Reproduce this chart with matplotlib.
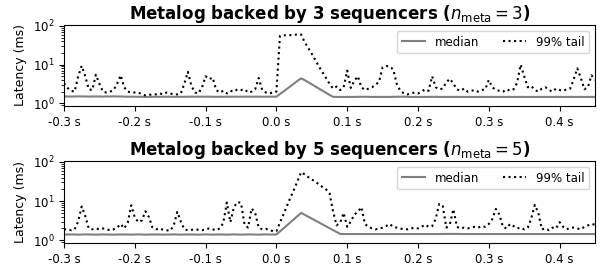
import matplotlib
matplotlib.use("Agg")
import matplotlib.pyplot as plt
import numpy as np

# sample times (s), one every 5 ms
T_START = -0.300
T_STEP = 0.005
N_SAMPLES = 151

# n_meta = 3
TAIL3 = [
    3.3, 2.5, 2.1, 2.0, 4.9, 9.3, 5.0, 2.3, 2.2, 5.5,
    3.2, 2.0, 1.9, 2.0, 2.2, 3.2, 5.3, 2.6, 2.0, 1.9,
    1.9, 1.9, 1.7, 1.6, 1.65, 1.7, 1.7, 1.8, 1.7, 1.9,
    1.8, 1.7, 1.7, 1.8, 3.2, 6.5, 2.8, 1.9, 1.8, 2.6,
    5.0, 4.2, 4.6, 2.2, 1.9, 2.1, 1.8, 2.1, 2.0, 2.3,
    2.2, 2.3, 1.9, 2.0, 2.3, 4.5, 2.2, 1.9, 1.8, 1.9,
    2.0, 55, 57, 58, 58, 59, 61, 60, 38, 27,
    19, 13, 9.0, 6.4, 4.5, 3.2, 2.4, 2.7, 2.2, 2.6,
    7.0, 2.5, 3.8, 5.0, 2.6, 2.2, 2.4, 2.6, 3.0, 3.6,
    8.5, 9.2, 9.0, 7.5, 3.2, 2.1, 1.8, 1.7, 1.8, 1.9,
    1.8, 2.0, 2.3, 2.1, 5.0, 2.6, 2.3, 2.4, 3.5, 4.3,
    3.2, 2.3, 2.1, 2.4, 2.0, 2.1, 2.2, 2.0, 2.2, 2.3,
    4.0, 2.6, 2.2, 2.1, 2.0, 2.3, 2.1, 2.3, 3.4, 10.0,
    5.0, 2.6, 2.8, 2.2, 2.0, 2.4, 2.6, 2.2, 2.0, 2.4,
    2.2, 2.1, 2.3, 2.4, 4.2, 8.0, 4.5, 2.3, 2.6, 5.3, 4.0,
]
MED3 = [
    1.50, 1.50, 1.49, 1.50, 1.51, 1.50, 1.50, 1.49, 1.50, 1.50,
    1.50, 1.49, 1.50, 1.50, 1.51, 1.50, 1.50, 1.49, 1.48, 1.48,
    1.48, 1.47, 1.47, 1.46, 1.46, 1.47, 1.47, 1.47, 1.48, 1.48,
    1.48, 1.47, 1.47, 1.47, 1.47, 1.48, 1.48, 1.48, 1.48, 1.48,
    1.48, 1.48, 1.47, 1.47, 1.47, 1.47, 1.48, 1.48, 1.48, 1.48,
    1.48, 1.48, 1.48, 1.48, 1.48, 1.48, 1.48, 1.48, 1.48, 1.48,
    1.48, 1.73, 2.02, 2.36, 2.77, 3.26, 3.83, 4.40, 3.97, 3.50,
    3.09, 2.72, 2.40, 2.12, 1.87, 1.65, 1.47, 1.46, 1.46, 1.46,
    1.46, 1.46, 1.46, 1.47, 1.47, 1.47, 1.47, 1.46, 1.46, 1.46,
    1.46, 1.46, 1.46, 1.47, 1.47, 1.48, 1.48, 1.47, 1.46, 1.46,
    1.46, 1.46, 1.46, 1.46, 1.47, 1.47, 1.46, 1.46, 1.46, 1.46,
    1.46, 1.46, 1.46, 1.46, 1.46, 1.46, 1.46, 1.46, 1.46, 1.46,
    1.46, 1.46, 1.46, 1.46, 1.46, 1.46, 1.46, 1.46, 1.46, 1.46,
    1.46, 1.46, 1.46, 1.46, 1.46, 1.46, 1.46, 1.46, 1.46, 1.46,
    1.46, 1.46, 1.46, 1.46, 1.46, 1.46, 1.46, 1.46, 1.46, 1.46, 1.46,
]

# n_meta = 5
TAIL5 = [
    1.9, 1.9, 1.8, 1.9, 3.0, 7.3, 4.2, 2.0, 1.9, 2.0,
    1.9, 2.0, 1.9, 1.8, 1.9, 2.1, 2.6, 2.0, 2.8, 7.8,
    3.8, 2.9, 3.2, 5.5, 3.9, 2.1, 1.9, 2.0, 1.85, 1.8,
    1.75, 2.4, 5.3, 3.0, 1.9, 1.8, 1.85, 1.9, 1.85, 1.8,
    1.9, 2.0, 1.9, 1.8, 2.0, 2.8, 9.2, 2.9, 7.0, 9.5,
    9.0, 2.5, 2.1, 6.5, 5.0, 2.1, 1.9, 1.95, 1.85, 1.7,
    1.7, 2.8, 4.6, 7.5, 12.5, 20, 33, 55, 48, 41,
    36, 31, 27, 23, 20, 16, 5.5, 2.4, 2.8, 5.0,
    2.2, 3.0, 4.5, 5.3, 7.0, 2.6, 2.2, 2.0, 1.9, 2.0,
    2.1, 2.3, 2.6, 2.2, 2.1, 2.0, 1.9, 1.9, 2.0, 2.1,
    2.0, 2.2, 2.5, 2.2, 2.3, 3.5, 8.5, 7.5, 2.1, 2.6,
    6.2, 2.2, 2.0, 2.1, 2.0, 2.1, 2.2, 2.1, 2.3, 2.2,
    2.6, 3.5, 6.3, 4.5, 2.2, 2.0, 2.6, 2.3, 2.0, 2.1,
    1.9, 2.1, 3.6, 8.0, 5.0, 1.9, 2.0, 1.8, 2.1, 2.0,
    2.9, 2.2, 1.9, 2.1, 2.1, 2.0, 1.9, 2.2, 2.4, 2.6, 2.5,
]
MED5 = [
    1.40, 1.40, 1.41, 1.40, 1.39, 1.40, 1.41, 1.40, 1.40, 1.39,
    1.40, 1.41, 1.40, 1.40, 1.39, 1.40, 1.40, 1.41, 1.40, 1.39,
    1.40, 1.41, 1.40, 1.39, 1.40, 1.40, 1.41, 1.40, 1.39, 1.40,
    1.40, 1.41, 1.40, 1.39, 1.40, 1.41, 1.40, 1.40, 1.39, 1.40,
    1.41, 1.40, 1.39, 1.40, 1.41, 1.40, 1.39, 1.40, 1.41, 1.40,
    1.39, 1.40, 1.41, 1.40, 1.40, 1.39, 1.40, 1.41, 1.40, 1.40,
    1.40, 1.68, 2.00, 2.40, 2.90, 3.50, 4.20, 5.00, 4.47, 4.00,
    3.57, 3.19, 2.85, 2.55, 2.28, 2.04, 1.82, 1.63, 1.45, 1.44,
    1.44, 1.44, 1.44, 1.44, 1.44, 1.44, 1.44, 1.44, 1.44, 1.44,
    1.44, 1.44, 1.44, 1.44, 1.44, 1.44, 1.44, 1.44, 1.44, 1.44,
    1.44, 1.44, 1.44, 1.44, 1.44, 1.44, 1.44, 1.45, 1.45, 1.45,
    1.45, 1.45, 1.44, 1.44, 1.44, 1.44, 1.44, 1.44, 1.44, 1.44,
    1.44, 1.44, 1.44, 1.44, 1.44, 1.44, 1.44, 1.44, 1.44, 1.44,
    1.44, 1.44, 1.44, 1.44, 1.44, 1.44, 1.44, 1.44, 1.44, 1.44,
    1.44, 1.44, 1.44, 1.44, 1.44, 1.44, 1.44, 1.44, 1.44, 1.44, 1.44,
]

N_META = [3, 5]
XTICKS = [-0.3, -0.2, -0.1, 0.0, 0.1, 0.2, 0.3, 0.4]
XTICK_LABELS = ["-0.3 s", "-0.2 s", "-0.1 s", "0.0 s", "0.1 s", "0.2 s", "0.3 s", "0.4 s"]

t = T_START + T_STEP * np.arange(N_SAMPLES)

fig = plt.figure(figsize=(6.02, 2.65), dpi=100)
W, H = 602.0, 265.0
ax_top = fig.add_axes([64 / W, 1 - 106 / H, 531 / W, 81 / H])
ax_bot = fig.add_axes([64 / W, 1 - 243 / H, 531 / W, 82 / H])

for ax, n, med, tail in [(ax_top, N_META[0], MED3, TAIL3), (ax_bot, N_META[1], MED5, TAIL5)]:
    ax.plot(t, med, color="gray", lw=1.5, label="median")
    ax.plot(t, tail, color="black", lw=1.5, ls=":", label="99% tail")
    ax.set_yscale("log")
    ax.set_ylim(0.85, 106)
    ax.set_xlim(-0.3, 0.45)
    ax.set_xticks(XTICKS)
    ax.set_xticklabels(XTICK_LABELS)
    ax.tick_params(labelsize=8.5)
    ax.set_ylabel("Latency (ms)", fontsize=9)
    ax.set_title("Metalog backed by %d sequencers ($n_{\\mathrm{meta}}=%d$)" % (n, n),
                 fontsize=12, fontweight="bold", pad=4)
    ax.legend(loc="upper right", ncol=2, fontsize=8.5)

fig.savefig("out.png", dpi=100)
